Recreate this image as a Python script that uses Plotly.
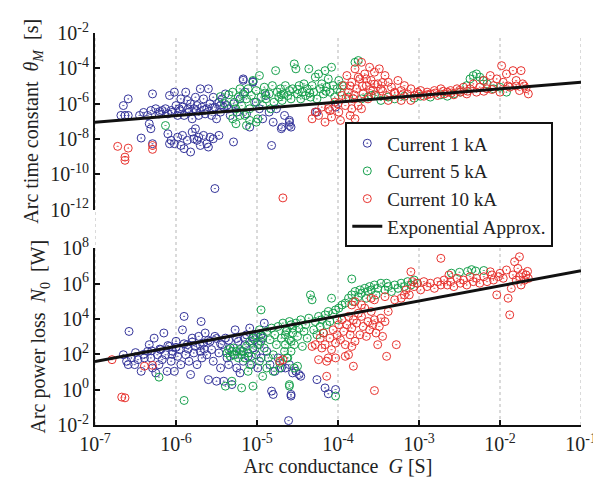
import plotly.graph_objects as go

# ---------------- data (log10 values) ----------------
# Top panel: (log10 G [S], log10 theta_M [s])
top_1kA = [
    (-6.59,-5.73),(-6.65,-6.11),(-6.63,-6.67),(-6.68,-6.67),(-6.59,-6.67),(-6.45,-6.67),(-6.43,-7.95),(-6.35,-6.67),
    (-6.31,-6.39),(-6.29,-5.45),(-6.33,-7.14),(-6.31,-7.42),(-6.29,-8.27),(-6.25,-6.29),(-6.21,-6.58),(-6.17,-6.39),
    (-6.13,-6.29),(-6.10,-6.58),(-6.08,-5.54),(-6.06,-6.39),(-6.02,-5.35),(-6.00,-6.11),(-5.98,-6.67),(-5.96,-6.29),
    (-5.94,-5.73),(-5.92,-6.20),(-5.90,-6.67),(-5.88,-5.35),(-5.86,-5.82),(-5.84,-6.48),(-5.82,-6.01),(-5.80,-6.86),
    (-5.78,-6.29),(-5.76,-5.64),(-5.74,-6.11),(-5.72,-6.67),(-5.70,-5.16),(-5.68,-6.20),(-5.66,-5.73),(-5.64,-6.58),
    (-5.62,-6.29),(-5.60,-5.16),(-5.58,-6.01),(-5.56,-6.67),(-5.54,-5.64),(-5.52,-6.20),(-5.50,-6.86),(-5.47,-5.92),
    (-5.45,-6.48),(-5.43,-5.73),(-5.41,-6.20),(-5.39,-5.45),(-5.37,-6.11),(-5.33,-6.67),(-5.29,-6.01),(-5.25,-6.48),
    (-5.21,-5.73),(-5.17,-4.60),(-5.15,-5.35),(-5.13,-6.58),(-5.09,-7.33),(-5.05,-4.79),(-5.01,-5.92),(-4.97,-6.29),
    (-4.93,-6.86),(-4.89,-5.54),(-4.85,-6.48),(-4.80,-7.05),(-4.76,-6.29),(-4.70,-7.42),(-4.66,-6.67),(-4.60,-7.05),
    (-6.10,-7.71),(-6.06,-8.08),(-6.02,-8.27),(-5.98,-7.90),(-5.92,-7.80),(-5.90,-8.55),(-5.86,-8.08),(-5.82,-8.74),
    (-5.80,-7.61),(-5.76,-7.42),(-5.72,-7.90),(-5.70,-8.37),(-5.66,-7.80),(-5.62,-8.27),(-5.60,-8.46),(-5.58,-7.90),
    (-5.54,-7.99),(-5.47,-7.80),(-5.78,-7.99),(-5.74,-8.08),(-5.29,-8.17),(-4.82,-8.37),(-5.52,-10.81),(-5.94,-8.37),
    (-6.08,-8.27),(-4.69,-7.33),(-4.60,-7.24),(-4.26,-6.48),(-4.60,-6.95),(-4.58,-7.33),(-4.03,-6.20),(-4.28,-6.48),
    (-5.17,-4.68),(-5.05,-4.75),(-6.05,-6.50),(-5.95,-6.40),(-5.85,-6.30),(-5.75,-6.40),(-5.65,-6.35),(-5.55,-6.25),
    (-6.20,-6.45),(-6.40,-6.50),(-5.45,-6.10),(-5.35,-6.30),
]
top_5kA = [
    (-5.30,-5.35),(-5.28,-5.92),(-5.26,-6.29),(-5.23,-5.63),(-5.21,-5.16),(-5.19,-6.11),(-5.17,-5.45),(-5.15,-6.67),
    (-5.13,-5.73),(-5.11,-5.16),(-5.09,-6.29),(-5.07,-5.54),(-5.05,-4.69),(-5.03,-5.92),(-5.01,-5.26),(-4.99,-6.86),
    (-4.97,-4.41),(-4.95,-5.63),(-4.93,-6.11),(-4.91,-5.07),(-4.89,-5.73),(-4.85,-5.45),(-4.83,-6.29),(-4.81,-4.98),
    (-4.79,-5.92),(-4.77,-4.13),(-4.75,-5.35),(-4.73,-5.63),(-4.71,-5.16),(-4.69,-5.82),(-4.67,-5.45),(-4.65,-4.98),
    (-4.62,-5.54),(-4.60,-5.26),(-4.58,-5.73),(-4.56,-5.16),(-4.54,-3.75),(-4.52,-4.03),(-4.50,-5.45),(-4.48,-4.98),
    (-4.46,-5.73),(-4.44,-5.35),(-4.42,-4.88),(-4.40,-5.54),(-4.38,-5.16),(-4.36,-4.03),(-4.34,-5.63),(-4.32,-4.98),
    (-4.30,-5.35),(-4.28,-4.50),(-4.26,-5.73),(-4.24,-4.32),(-4.22,-5.16),(-4.20,-4.88),(-4.18,-5.45),(-4.16,-4.13),
    (-4.14,-5.07),(-4.12,-4.60),(-4.10,-5.35),(-4.08,-3.94),(-4.06,-4.98),(-4.04,-5.63),(-4.01,-5.16),(-3.99,-4.69),
    (-3.97,-5.35),(-3.95,-4.98),
    (-5.30,-6.86),(-5.26,-7.14),(-5.13,-7.24),(-5.01,-7.05),(-6.13,-7.24),(-5.09,-6.95),(-5.21,-6.67),
    (-3.87,-5.63),(-3.79,-3.66),(-3.75,-3.56),(-3.71,-5.73),(-3.63,-5.63),(-3.59,-5.54),(-3.55,-5.50),(-3.47,-5.82),
    (-3.38,-5.63),(-3.30,-5.73),(-3.18,-5.58),(-3.06,-5.69),(-2.98,-5.58),(-2.86,-5.63),(-2.73,-5.50),(-2.65,-5.58),
    (-2.57,-5.45),(-2.49,-5.35),(-2.41,-4.98),(-2.37,-4.60),(-2.33,-4.41),(-2.29,-4.32),(-2.25,-4.50),(-2.21,-4.69),
    (-2.16,-4.88),(-2.08,-5.16),(-2.00,-5.07),(-1.92,-5.35),
    (-5.45,-5.60),(-5.40,-6.00),(-5.35,-5.50),(-4.90,-5.40),(-4.70,-5.50),(-4.50,-5.20),(-4.35,-5.40),(-4.15,-5.30),
]
top_10kA = [
    (-4.32,-6.86),(-4.28,-6.48),(-4.24,-6.67),(-4.20,-6.20),(-4.16,-7.05),(-4.12,-6.29),(-4.08,-6.76),(-4.04,-5.92),
    (-3.99,-6.48),(-3.95,-5.54),(-3.93,-4.98),(-3.91,-6.11),(-3.89,-4.41),(-3.87,-5.35),(-3.85,-6.67),(-3.83,-4.79),
    (-3.81,-5.73),(-3.79,-4.03),(-3.77,-5.16),(-3.75,-6.11),(-3.73,-4.60),(-3.71,-3.66),(-3.69,-5.45),(-3.67,-4.32),
    (-3.65,-4.98),(-3.63,-5.73),(-3.61,-3.94),(-3.59,-4.69),(-3.57,-5.26),(-3.55,-4.22),(-3.53,-5.54),(-3.51,-4.88),
    (-3.49,-4.03),(-3.47,-5.16),(-3.42,-4.41),(-3.40,-5.54),(-3.38,-4.79),(-3.34,-5.07),(-3.30,-5.35),(-3.26,-4.69),
    (-3.22,-5.26),(-3.18,-4.98),(-3.14,-5.45),(-3.10,-5.16),(-3.06,-5.54),(-3.02,-5.35),(-2.98,-5.26),(-2.94,-5.58),
    (-2.90,-5.35),(-2.86,-5.45),(-2.81,-5.26),(-2.77,-5.54),(-2.73,-5.16),(-2.69,-5.45),(-2.65,-5.35),(-2.61,-5.26),
    (-2.57,-5.50),(-2.53,-5.16),(-2.49,-5.35),(-2.45,-5.07),(-2.41,-5.45),(-2.37,-5.16),(-2.33,-4.88),(-2.29,-5.35),
    (-2.25,-5.07),(-2.20,-4.69),(-2.16,-5.16),(-2.12,-4.41),(-2.08,-4.98),(-2.04,-4.60),(-2.00,-5.35),(-1.98,-3.85),
    (-1.96,-4.79),(-1.92,-4.32),(-1.88,-5.07),(-1.84,-4.13),(-1.80,-4.69),(-1.76,-5.26),(-1.74,-4.13),(-1.72,-4.88),
    (-1.68,-5.16),(-1.65,-5.45),(-3.79,-6.86),(-3.71,-6.29),(-3.97,-6.95),(-3.83,-6.29),(-3.38,-5.82),(-3.22,-5.82),
    (-3.10,-5.82),
    (-3.00,-5.45),(-2.90,-5.50),(-2.80,-5.40),(-2.70,-5.30),(-2.60,-5.40),(-2.50,-5.25),(-2.40,-5.30),(-2.20,-5.30),
    (-2.10,-5.20),(-1.90,-5.00),(-1.80,-5.00),(-1.70,-5.00),(-3.20,-5.50),(-3.30,-5.40),(-3.45,-5.30),(-3.60,-5.20),
    (-3.70,-5.00),(-3.80,-5.50),(-3.90,-5.70),(-4.00,-6.00),(-4.10,-6.40),(-3.85,-5.00),(-3.75,-4.50),(-3.65,-4.60),
    (-3.55,-4.90),(-3.45,-4.80),
    (-6.72,-8.42),(-6.59,-8.52),(-6.29,-8.37),(-6.29,-8.59),(-6.63,-9.03),(-6.63,-9.21),(-4.68,-11.34),
]
# Bottom panel: (log10 G [S], log10 N_0 [W])
bot_1kA = [
    (-6.65,1.98),(-6.61,1.61),(-6.59,1.42),(-6.58,3.30),(-6.55,1.80),(-6.51,1.42),(-6.47,1.70),(-6.43,1.04),
    (-6.39,1.80),(-6.35,2.17),(-6.33,2.55),(-6.31,1.80),(-6.29,1.23),(-6.27,2.92),(-6.25,0.95),(-6.23,1.98),
    (-6.21,1.42),(-6.19,2.27),(-6.17,1.70),(-6.15,3.21),(-6.13,1.98),(-6.11,1.04),(-6.08,2.45),(-6.06,1.61),
    (-6.04,2.17),(-6.02,1.04),(-6.00,2.74),(-5.98,1.89),(-5.96,2.27),(-5.94,1.42),(-5.92,3.39),(-5.90,4.15),
    (-5.88,1.98),(-5.86,2.55),(-5.84,1.61),(-5.82,0.86),(-5.80,2.92),(-5.78,2.08),(-5.76,2.45),(-5.74,1.42),
    (-5.72,3.02),(-5.70,2.17),(-5.69,3.86),(-5.68,1.80),(-5.66,2.64),(-5.64,3.21),(-5.62,1.98),(-5.60,0.57),
    (-5.58,2.74),(-5.56,2.27),(-5.54,1.61),(-5.52,3.02),(-5.50,0.48),(-5.47,2.08),(-5.45,1.23),(-5.43,2.55),
    (-5.41,0.48),(-5.39,2.92),(-5.37,1.80),(-5.35,1.42),(-5.33,2.36),(-5.31,0.29),(-5.29,1.98),(-5.27,3.39),
    (-5.25,1.23),(-5.23,2.74),(-5.21,0.95),(-5.19,2.17),(-5.17,1.61),(-5.15,2.55),(-5.13,3.11),(-5.11,1.89),
    (-5.09,3.49),(-5.07,1.42),(-5.05,2.36),(-5.03,2.83),(-5.01,1.98),(-4.99,1.23),(-4.97,2.55),(-4.95,1.80),
    (-4.93,2.92),(-4.91,3.77),(-4.88,2.17),(-4.84,1.42),(-4.82,-0.08),(-4.80,-0.27),(-4.78,1.04),(-4.74,1.80),
    (-4.70,1.23),(-4.58,-0.27),(-4.61,-1.75),(-4.60,1.42),(-4.56,0.95),(-4.52,1.04),(-4.48,0.86),(-4.46,0.76),
    (-4.58,-0.36),(-4.26,0.57),(-4.16,0.10),(-4.12,-0.23),(-4.03,0.01),(-4.65,1.23),
    (-6.40,2.00),(-6.30,2.20),(-6.20,2.30),(-6.10,2.50),(-6.00,2.40),(-5.90,2.60),(-5.80,2.70),(-5.70,2.50),
    (-5.60,2.80),(-5.50,2.90),(-5.45,2.60),(-5.35,2.80),(-5.25,2.90),(-5.15,2.90),(-5.05,3.00),(-4.95,3.10),
    (-6.50,2.10),(-6.05,2.00),(-5.85,2.30),(-5.65,2.30),
]
bot_5kA = [
    (-5.37,2.08),(-5.35,2.27),(-5.33,1.89),(-5.31,2.17),(-5.29,2.36),(-5.27,1.98),(-5.25,2.17),(-5.23,1.80),
    (-5.21,2.27),(-5.19,1.98),(-5.17,2.17),(-5.15,1.80),(-5.13,2.45),(-5.11,2.08),(-5.09,2.74),(-5.07,1.89),
    (-5.05,2.92),(-5.03,2.27),(-5.01,3.11),(-4.99,2.55),(-4.97,3.39),(-4.95,2.74),(-4.93,3.02),(-4.91,2.36),
    (-4.88,3.30),(-4.86,1.80),(-4.84,2.83),(-4.82,3.49),(-4.80,1.98),(-4.78,3.11),(-4.76,2.55),(-4.74,3.58),
    (-4.72,1.51),(-4.70,2.92),(-4.68,3.77),(-4.66,2.17),(-4.64,3.30),(-4.62,1.80),(-4.60,3.86),(-4.58,2.74),
    (-4.56,3.49),(-5.09,1.42),(-4.97,1.61),(-4.88,1.23),(-4.80,1.04),(-4.72,1.23),
    (-5.39,0.20),(-5.31,0.48),(-5.19,0.10),(-5.11,1.04),(-5.05,0.20),(-4.95,4.52),(-4.93,0.76),(-4.60,0.20),
    (-5.90,-0.61),(-6.21,0.71),
    (-4.65,3.11),(-4.63,3.39),(-4.60,2.83),(-4.58,3.68),(-4.56,3.21),(-4.54,2.55),(-4.52,3.77),(-4.50,3.02),
    (-4.48,3.49),(-4.46,3.96),(-4.44,2.45),(-4.42,3.30),(-4.40,3.68),(-4.38,2.92),(-4.36,4.05),(-4.34,5.37),
    (-4.32,5.09),(-4.30,3.39),(-4.28,3.86),(-4.26,3.11),(-4.24,4.15),(-4.22,3.58),(-4.20,3.96),(-4.18,3.21),
    (-4.16,4.24),(-4.14,3.68),(-4.12,4.43),(-4.10,3.86),(-4.08,5.18),(-4.06,4.33),(-4.03,4.52),(-4.01,3.96),
    (-3.99,4.62),(-4.65,2.55),(-4.63,1.80),(-4.58,2.17),(-4.54,1.23),(-4.50,1.33),(-4.60,0.29),(-4.03,-0.36),
    (-3.83,6.27),(-3.95,4.80),(-3.91,4.90),(-3.87,5.18),(-3.83,5.37),(-3.81,4.99),(-3.79,5.56),(-3.75,5.27),
    (-3.73,5.65),(-3.71,5.46),(-3.67,5.74),(-3.65,5.18),(-3.63,5.56),(-3.61,5.84),(-3.59,5.65),(-3.55,5.93),
    (-3.53,5.37),(-3.51,5.74),(-3.47,6.03),(-3.42,5.65),(-3.40,6.03),(-3.38,5.84),(-3.34,5.56),(-3.30,5.93),
    (-3.26,5.74),(-3.22,6.03),(-3.18,5.84),(-3.14,6.12),(-3.10,5.93),(-3.06,6.21),(-3.02,6.03),
    (-2.60,6.60),(-2.50,6.65),(-2.40,6.70),(-2.35,6.80),(-2.30,6.72),(-2.20,6.75),
]
bot_10kA = [
    (-4.32,2.45),(-4.28,2.55),(-4.24,1.70),(-4.22,2.92),(-4.20,2.36),(-4.18,3.21),(-4.16,2.55),(-4.14,1.61),
    (-4.12,1.80),(-4.10,2.92),(-4.08,2.27),(-4.06,3.39),(-4.03,2.64),(-4.01,3.11),(-3.99,3.68),(-3.97,2.83),
    (-3.95,3.96),(-3.93,3.30),(-3.91,2.55),(-3.89,3.68),(-3.87,4.15),(-3.85,3.11),(-3.83,3.49),(-3.81,1.33),
    (-3.81,3.96),(-3.79,2.74),(-3.77,3.77),(-3.75,4.33),(-3.73,3.11),(-3.71,4.15),(-3.69,3.58),(-3.67,4.62),
    (-3.65,3.02),(-3.63,3.86),(-3.61,3.39),(-3.59,4.43),(-3.57,3.68),(-3.55,3.96),(-3.53,3.21),(-3.51,2.55),
    (-3.49,3.58),(-3.47,4.05),(-3.45,3.02),(-3.42,3.86),(-3.40,1.89),(-3.38,4.43),(-3.28,2.55),(-3.55,-0.05),
    (-4.14,0.76),(-4.03,1.80),(-3.87,1.98),(-3.83,2.45),(-3.91,1.89),
    (-3.83,4.80),(-3.79,4.99),(-3.71,4.80),(-3.59,5.18),(-3.55,5.09),(-3.42,5.27),(-3.30,5.09),(-3.22,5.18),
    (-3.18,5.37),
    (-3.16,5.65),(-3.12,5.37),(-3.10,6.68),(-3.08,6.12),(-3.06,5.84),(-3.02,6.03),(-2.98,5.65),(-2.94,6.12),
    (-2.90,5.84),(-2.86,6.03),(-2.81,5.74),(-2.77,6.12),(-2.73,5.93),(-2.69,6.21),(-2.65,5.93),(-2.63,6.50),
    (-2.61,6.12),(-2.57,5.84),(-2.53,6.31),(-2.49,6.03),(-2.45,6.21),(-2.41,5.93),(-2.37,6.40),(-2.33,6.12),
    (-2.29,6.31),(-2.25,6.03),(-2.20,6.40),(-2.16,6.12),(-2.12,6.68),(-2.10,6.50),(-2.08,6.21),(-2.04,5.37),
    (-2.02,6.40),(-2.00,6.59),(-1.96,6.31),(-1.92,6.78),(-1.90,5.18),(-1.88,4.24),(-1.86,5.74),(-1.84,6.50),
    (-1.82,7.25),(-1.80,6.21),(-1.78,6.87),(-1.76,6.40),(-1.74,5.93),(-1.72,6.59),(-2.73,7.44),(-1.76,7.53),
    (-1.68,6.50),(-1.65,6.30),(-1.70,6.20),(-1.66,6.70),
    (-6.79,1.70),(-6.39,1.33),(-6.29,1.38),(-6.67,-0.42),(-6.63,-0.46),(-4.72,1.61),(-4.68,1.70),
]
# Exponential approximation (end points, log10)
fit_logG = [-7.0, -1.0]
fit_top_logT = [-7.05, -4.79]
fit_bot_logN = [1.60, 6.74]

series_names = ["Current 1 kA", "Current 5 kA", "Current 10 kA"]
series_colors = ["#34349a", "#16a04c", "#e8322e"]
x_ticks = [-7, -6, -5, -4, -3, -2, -1]
top_ticks = [-12, -10, -8, -6, -4, -2]
bot_ticks = [-2, 0, 2, 4, 6, 8]

FONT = "Liberation Serif"


def unlog(v):
    return [10 ** a for a in v]


fig = go.Figure()
for pts, name, col in zip([top_1kA, top_5kA, top_10kA], series_names, series_colors):
    fig.add_trace(go.Scatter(
        x=unlog([p[0] for p in pts]), y=unlog([p[1] for p in pts]),
        mode="markers", name=name, xaxis="x", yaxis="y2", legendgroup=name,
        marker=dict(symbol="circle-open-dot", size=8, color=col, line=dict(width=1, color=col)),
    ))
for pts, name, col in zip([bot_1kA, bot_5kA, bot_10kA], series_names, series_colors):
    fig.add_trace(go.Scatter(
        x=unlog([p[0] for p in pts]), y=unlog([p[1] for p in pts]),
        mode="markers", name=name, xaxis="x", yaxis="y", legendgroup=name, showlegend=False,
        marker=dict(symbol="circle-open-dot", size=8, color=col, line=dict(width=1, color=col)),
    ))
fig.add_trace(go.Scatter(x=unlog(fit_logG), y=unlog(fit_top_logT), mode="lines",
                         name="Exponential Approx.", xaxis="x", yaxis="y2",
                         line=dict(color="#111111", width=3)))
fig.add_trace(go.Scatter(x=unlog(fit_logG), y=unlog(fit_bot_logN), mode="lines",
                         name="Exponential Approx.", xaxis="x", yaxis="y", showlegend=False,
                         line=dict(color="#111111", width=3)))


def sup_labels(vals):
    return ["10<sup>%d</sup>" % v for v in vals]


axis_common = dict(
    type="log", showline=True, linecolor="#111111", linewidth=2, ticks="inside",
    ticklen=5, tickwidth=2, tickcolor="#111111", showgrid=False, zeroline=False,
    tickfont=dict(family=FONT, size=20, color="#222222"), mirror=False,
    ticklabeloverflow="allow",
)

for v in x_ticks:
    fig.add_shape(type="line", xref="x", yref="paper", x0=10 ** v, x1=10 ** v, y0=0, y1=0.99,
                  line=dict(color="#b5b5b5", width=1, dash="dot"), layer="below")

fig.update_layout(
    width=601, height=484,
    margin=dict(l=87, r=22, t=24, b=67),
    paper_bgcolor="white", plot_bgcolor="white",
    font=dict(family=FONT, size=20, color="#222222"),
    showlegend=True,
    xaxis=dict(axis_common, range=[-7, -1], domain=[0, 1], anchor="y",
               tickvals=unlog(x_ticks), ticktext=sup_labels(x_ticks),
               title=dict(text="Arc conductance  <i>G</i> [S]", font=dict(family=FONT, size=20), standoff=4)),
    yaxis=dict(axis_common, range=[-2, 8], domain=[0, 0.4504], anchor="x",
               tickvals=unlog(bot_ticks), ticktext=sup_labels(bot_ticks),
               title=dict(text="Arc power loss  <i>N</i><sub>0</sub>  [W]", font=dict(family=FONT, size=20), standoff=6)),
    yaxis2=dict(axis_common, range=[-12, -2], domain=[0.5496, 1], anchor="x",
                tickvals=unlog(top_ticks), ticktext=sup_labels(top_ticks),
                title=dict(text="Arc time constant  <i>θ<sub>M</sub></i>  [s]", font=dict(family=FONT, size=20), standoff=6)),
    legend=dict(x=0.515, y=0.772, xanchor="left", yanchor="top", bgcolor="white",
                bordercolor="#111111", borderwidth=2, font=dict(family=FONT, size=19, color="#222222"),
                tracegroupgap=0),
)

fig.write_html("out.html")
